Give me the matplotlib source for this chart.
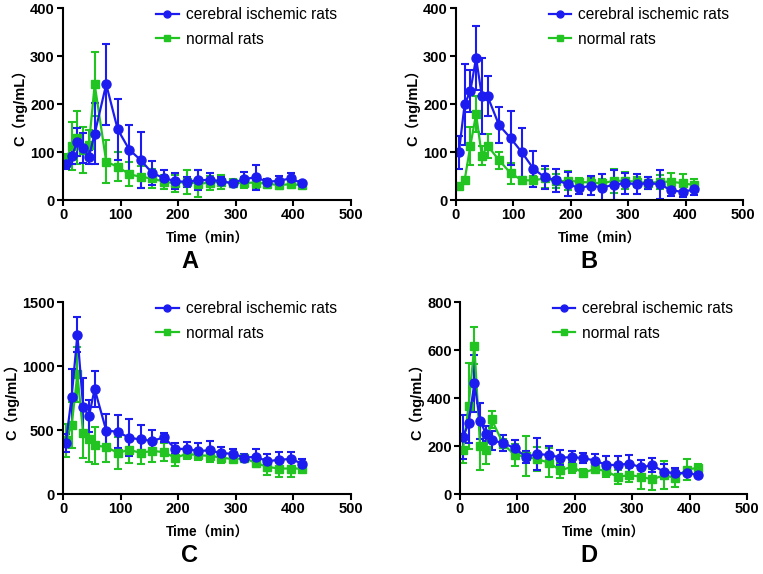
import numpy as np
import matplotlib
matplotlib.use("Agg")
import matplotlib.pyplot as plt
from matplotlib.lines import Line2D

plt.rcParams['font.family'] = ['Liberation Sans', 'Noto Sans CJK SC', 'DejaVu Sans']

t = [5, 15, 25, 35, 45, 55, 75, 95, 115, 135, 155, 175, 195, 215, 235, 255,
     275, 295, 315, 335, 355, 375, 395, 415]

# panel A
a_isch = [75, 91, 121, 109, 90, 138, 241, 147, 105, 83, 56, 46, 39, 38, 41, 42,
          39, 35, 44, 47, 38, 40, 45, 35]
a_isch_sd = [10, 16, 30, 31, 15, 64, 84, 64, 51, 59, 25, 17, 17, 10, 21, 14,
             8, 4, 14, 26, 5, 10, 12, 4]
a_norm = [85, 112, 130, 105, 115, 241, 80, 69, 54, 48, 45, 38, 35, 38, 34, 36,
          38, 35, 36, 36, 34, 31, 33, 31]
a_norm_sd = [10, 50, 55, 48, 30, 67, 45, 30, 25, 22, 20, 15, 18, 25, 28, 15,
             15, 8, 12, 10, 8, 8, 8, 6]

# panel B
b_isch = [99, 199, 227, 296, 217, 216, 156, 129, 99, 65, 47, 41, 33, 25, 30, 26,
          32, 35, 33, 35, 33, 20, 17, 22]
b_isch_sd = [34, 84, 44, 67, 79, 42, 37, 57, 52, 37, 24, 24, 25, 12, 19, 29,
             31, 22, 21, 12, 30, 12, 10, 12]
b_norm = [29, 41, 113, 179, 92, 113, 83, 56, 41, 41, 45, 39, 40, 38, 36, 35,
          40, 40, 38, 35, 38, 38, 35, 31]
b_norm_sd = [5, 5, 40, 38, 20, 25, 18, 22, 5, 8, 20, 15, 20, 8, 10, 8,
             25, 18, 10, 12, 15, 18, 20, 12]

# panel C
c_isch = [400, 760, 1244, 679, 609, 820, 496, 486, 439, 426, 415, 442, 355, 350,
          337, 340, 319, 314, 285, 290, 256, 267, 274, 238]
c_isch_sd = [70, 217, 138, 225, 125, 144, 128, 128, 146, 110, 84, 34, 40, 60,
             58, 73, 49, 39, 30, 65, 55, 60, 58, 36]
c_norm = [420, 536, 935, 473, 431, 379, 368, 321, 345, 321, 337, 327, 282, 314,
          303, 298, 285, 272, 280, 243, 212, 199, 199, 199]
c_norm_sd = [130, 180, 217, 190, 180, 146, 115, 126, 100, 90, 90, 70, 60, 40,
             40, 50, 40, 25, 25, 35, 60, 65, 65, 25]

# panel D
d_isch = [238, 294, 461, 305, 252, 223, 213, 191, 155, 166, 163, 152, 153, 150,
          139, 121, 121, 127, 111, 120, 93, 86, 88, 79]
d_isch_sd = [91, 80, 119, 75, 30, 40, 32, 33, 25, 67, 36, 33, 25, 21, 27, 36,
             39, 35, 30, 28, 30, 24, 10, 8]
d_norm = [183, 367, 617, 201, 183, 311, 210, 162, 157, 144, 131, 98, 114, 88,
          105, 95, 71, 79, 72, 61, 78, 68, 102, 109]
d_norm_sd = [55, 178, 77, 100, 60, 36, 20, 45, 84, 50, 62, 30, 25, 15, 15, 25,
             30, 30, 50, 45, 59, 38, 42, 15]

panels = [
    ('A', a_isch, a_isch_sd, a_norm, a_norm_sd, 400, 100),
    ('B', b_isch, b_isch_sd, b_norm, b_norm_sd, 400, 100),
    ('C', c_isch, c_isch_sd, c_norm, c_norm_sd, 1500, 500),
    ('D', d_isch, d_isch_sd, d_norm, d_norm_sd, 800, 200),
]

W, H = 763, 574
# axes boxes in pixels: left, right, top, bottom
boxes = [(63, 351, 8, 200), (456, 743, 8, 200),
         (63, 351, 302, 494), (460, 747, 302, 494)]
letter_pos = [(190, 262), (589, 262), (190, 555), (589, 555)]

blue = '#1c1cf0'
green = '#22c422'

fig = plt.figure(figsize=(W / 100, H / 100), dpi=100)

for (name, yi, ei, yn, en, ymax, ystep), (l, r, top, bot), (lx, ly) in zip(panels, boxes, letter_pos):
    ax = fig.add_axes([l / W, 1 - bot / H, (r - l) / W, (bot - top) / H])
    ax.errorbar(t, yn, yerr=en, color=green, marker='s', markersize=6,
                linewidth=1.6, elinewidth=1.5, capsize=2.8, capthick=1.5)
    ax.errorbar(t, yi, yerr=ei, color=blue, marker='o', markersize=6.5,
                linewidth=1.6, elinewidth=1.5, capsize=2.8, capthick=1.5)
    ax.set_xlim(0, 500)
    ax.set_ylim(0, ymax)
    ax.set_xticks(np.arange(0, 501, 100))
    ax.set_yticks(np.arange(0, ymax + 1, ystep))
    for s in ['top', 'right']:
        ax.spines[s].set_visible(False)
    for s in ['left', 'bottom']:
        ax.spines[s].set_linewidth(1.5)
    ax.tick_params(direction='out', length=4, width=1.5, labelsize=10.5, pad=2)
    for lab in ax.get_xticklabels() + ax.get_yticklabels():
        lab.set_fontweight('bold')
    ax.set_xlabel('Time（min）', fontsize=9.8, fontweight='bold', labelpad=7)
    ax.set_ylabel('C（ng/mL）', fontsize=10.5, fontweight='bold', labelpad=2)
    hi = Line2D([], [], color=blue, marker='o', markersize=5, linewidth=1.6)
    hn = Line2D([], [], color=green, marker='s', markersize=4.6, linewidth=1.6)
    ax.legend([hi, hn], ['cerebral ischemic rats', 'normal rats'],
              loc='upper left', bbox_to_anchor=(0.296, 1.045), frameon=False,
              fontsize=11.2, handlelength=1.45, handletextpad=0.45,
              labelspacing=0.62, borderpad=0)
    fig.text(lx / W, 1 - ly / H, name, fontsize=17, fontweight='bold',
             ha='center', va='center')

fig.savefig('out.png', dpi=100)
